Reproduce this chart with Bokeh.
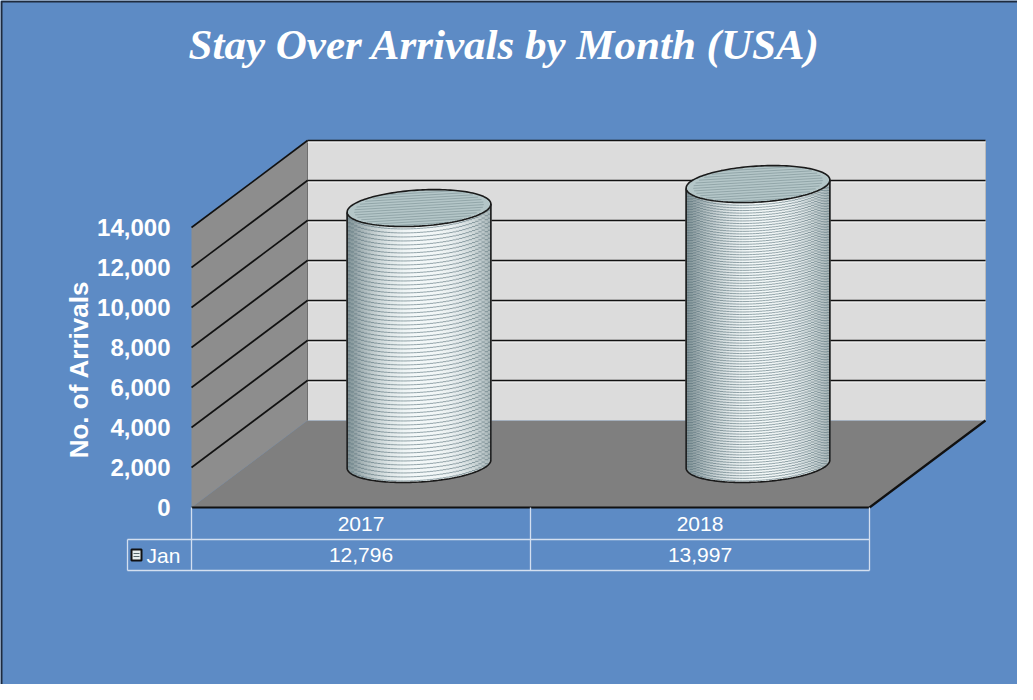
import numpy as np
from bokeh.plotting import figure
from bokeh.models import Range1d
from bokeh.core.properties import value
from bokeh.embed import file_html
from bokeh.resources import INLINE

# ---------------- data ----------------
years = ["2017", "2018"]
arrivals = [12796, 13997]
series_name = "Jan"
y_ticks = [0, 2000, 4000, 6000, 8000, 10000, 12000, 14000]
y_tick_labels = ["0", "2,000", "4,000", "6,000", "8,000", "10,000", "12,000", "14,000"]
title_text = "Stay Over Arrivals by Month (USA)"
y_title = "No. of Arrivals"

# ---------------- layout / style ----------------
W, H = 1017, 684
SX = 339.0          # px per category
SY = 0.02           # px per arrival
ORIGIN = (191, 507)  # canvas px of front-left-bottom corner
x0 = -0.5 - ORIGIN[0] / SX
x1 = x0 + W / SX
y1 = ORIGIN[1] / SY
y0 = y1 - H / SY

def dx(px):
    return px / SX

def dy(px):
    return px / SY

DX, DY = dx(116), dy(87)     # depth offsets
Y_MAX = y_ticks[-1]
LEFT, RIGHT = -0.5, len(years) - 0.5

BLUE = "#5D8BC5"
BACK = "#DCDCDC"
SIDE = "#8D8D8D"
FLOOR = "#7F7F7F"
GRIDC = "#D3DFF0"
FONT = value("Liberation Sans")

def mix(c1, c2, s):
    a = np.array([int(c1[i:i + 2], 16) for i in (1, 3, 5)], float)
    b = np.array([int(c2[i:i + 2], 16) for i in (1, 3, 5)], float)
    c = np.clip(a + (b - a) * s, 0, 255).astype(int)
    return "#%02x%02x%02x" % tuple(c)

p = figure(width=W, height=H, x_range=Range1d(x0, x1), y_range=Range1d(y0, y1),
           output_backend="svg", toolbar_location=None, min_border=0,
           x_axis_location=None, y_axis_location=None)
p.grid.visible = False
p.background_fill_color = BLUE
p.border_fill_color = BLUE
p.outline_line_color = None

p.line([x0 + dx(1), x0 + dx(1), x1], [y0, y1 - dy(1), y1 - dy(1)], line_color="#1E2B3E", line_width=2)

# ---------------- 3D box ----------------
p.patch([LEFT, RIGHT, RIGHT + DX, LEFT + DX], [0, 0, DY, DY], fill_color=FLOOR, line_color=None)
p.patch([LEFT, LEFT + DX, LEFT + DX, LEFT], [0, DY, DY + Y_MAX, Y_MAX], fill_color=SIDE, line_color=None)
p.quad(left=[LEFT + DX], right=[RIGHT + DX], bottom=[DY], top=[DY + Y_MAX], fill_color=BACK, line_color=None)
p.line([LEFT + DX, LEFT + DX], [DY, DY + Y_MAX], line_color="#6E6E6E", line_width=1)
p.line([RIGHT + DX, RIGHT + DX], [DY, DY + Y_MAX], line_color="#BBBBBB", line_width=1)

gt = [t for t in y_ticks if t > 0]
p.segment(x0=[LEFT + DX] * len(gt), y0=[DY + t - dy(1.5) for t in gt],
          x1=[RIGHT + DX] * len(gt), y1=[DY + t - dy(1.5) for t in gt],
          line_color="#F4F4F4", line_width=1)
p.segment(x0=[LEFT + DX] * len(gt), y0=[DY + t for t in gt],
          x1=[RIGHT + DX] * len(gt), y1=[DY + t for t in gt],
          line_color="#111111", line_width=1.6)
p.segment(x0=[LEFT] * len(gt), y0=gt, x1=[LEFT + DX] * len(gt), y1=[DY + t for t in gt],
          line_color="#111111", line_width=1.6)

p.line([LEFT, RIGHT, RIGHT + DX], [0, 0, DY], line_color="#111111", line_width=2.2)

# ---------------- cylinders ----------------
A_PX, B_PX, TH = 72.0, 18.0, 0.06
stripe_gap = [4.0, 2.6]          # px between stripes
LIGHT, DARK = "#F4F9F9", "#7E9094"

def off(t):
    ex, ey = A_PX * np.cos(t), B_PX * np.sin(t)
    X = ex * np.cos(TH) - ey * np.sin(TH)
    Y = ex * np.sin(TH) + ey * np.cos(TH)
    return dx(X), dy(Y)

def shade(u):
    if u < -0.05:
        return min(1.0, ((-u - 0.05) / 0.95) ** 1.8)
    return 0.65 * min(1.0, ((u + 0.05) / 1.05) ** 2.6)

tf = np.linspace(np.pi, 2 * np.pi, 80)
ta = np.linspace(0, 2 * np.pi, 160)
N = 44
uk = np.linspace(-1, 1, N + 1)
tk = 2 * np.pi - np.arccos(uk)
for i, v in enumerate(arrivals):
    cx = i + 0.5 * DX
    base = 0.5 * DY
    top = base + v
    sx0, sy0, sx1, sy1, scol = [], [], [], [], []
    for k in range(N):
        ta_, tb_ = tk[k], tk[k + 1]
        (oxa, oya), (oxb, oyb) = off(ta_), off(tb_)
        s = shade(0.5 * (uk[k] + uk[k + 1]))
        col = mix(LIGHT, DARK, s)
        pad = dx(0.6)
        p.patch([float(cx + oxa - pad), float(cx + oxb + pad), float(cx + oxb + pad), float(cx + oxa - pad)],
                [float(base + oya), float(base + oyb), float(top + oyb), float(top + oya)],
                fill_color=col, line_color=None)
        scolor = mix(col, "#58717A", 0.62)
        ylow = base + max(oya, oyb)
        yhigh = top + min(oya, oyb)
        for yy in np.arange(ylow + dy(1.5), yhigh, dy(stripe_gap[i])):
            sx0.append(float(cx + oxa)); sx1.append(float(cx + oxb))
            sy0.append(float(yy)); sy1.append(float(yy))
            scol.append(scolor)
    p.segment(x0=sx0, y0=sy0, x1=sx1, y1=sy1, line_color=scol, line_width=1)
    ox, oy = off(tf)
    lx = [cx + off(np.pi)[0]] + list(cx + ox) + [cx + off(2 * np.pi)[0]]
    ly = [top + off(np.pi)[1]] + list(base + oy) + [top + off(2 * np.pi)[1]]
    p.line(lx, ly, line_color="#1A1A1A", line_width=1.6)
    tx, ty = off(ta)
    p.patch(list(cx + tx), list(top + ty), fill_color="#B4C6C8", line_color=None)
    hx0, hx1, hy0, hy1 = [], [], [], []
    for yo in np.arange(-B_PX + 2, B_PX - 1, 2.6):
        half = A_PX * np.sqrt(max(0.0, 1 - (yo / B_PX) ** 2)) * 0.9
        hx0.append(float(cx + dx(-half))); hx1.append(float(cx + dx(half)))
        hy0.append(float(top + dy(yo - half * np.sin(TH))))
        hy1.append(float(top + dy(yo + half * np.sin(TH))))
    p.segment(x0=hx0, y0=hy0, x1=hx1, y1=hy1, line_color="#92A6A9", line_width=1)
    p.patch(list(cx + tx), list(top + ty), fill_color=None, line_color="#1A1A1A", line_width=1.6)

# ---------------- axis labels ----------------
p.text(x=[LEFT - dx(21)] * len(y_ticks), y=y_ticks, text=y_tick_labels,
       text_align="right", text_baseline="middle", text_color="white",
       text_font=FONT, text_font_style="bold", text_font_size="24px")
p.text(x=[LEFT - dx(113)], y=[dy(138)], text=[y_title], angle=np.pi / 2,
       text_align="center", text_baseline="middle", text_color="white",
       text_font=FONT, text_font_style="bold", text_font_size="26px")

p.text(x=[LEFT + dx(313)], y=[dy(463)], text=[title_text], text_align="center",
       text_baseline="middle", text_color="white", text_font=value("Liberation Serif"),
       text_font_style="bold italic", text_font_size="43px")

# ---------------- data table ----------------
ROW1, ROW2 = -dy(32), -dy(63)
TLEFT = LEFT - dx(64)
cat_x = list(range(len(years)))
p.segment(x0=[TLEFT, TLEFT], y0=[ROW1, ROW2], x1=[RIGHT, RIGHT], y1=[ROW1, ROW2],
          line_color=GRIDC, line_width=1.3)
bounds = [LEFT] + [c + 0.5 for c in cat_x]
p.segment(x0=bounds, y0=[0] * len(bounds), x1=bounds, y1=[ROW2] * len(bounds),
          line_color=GRIDC, line_width=1.3)
p.segment(x0=[TLEFT], y0=[ROW1], x1=[TLEFT], y1=[ROW2], line_color=GRIDC, line_width=1.3)

p.text(x=cat_x, y=[ROW1 / 2] * len(years), text=years, text_align="center",
       text_baseline="middle", text_color="white", text_font=FONT, text_font_size="21px")
p.text(x=cat_x, y=[(ROW1 + ROW2) / 2] * len(years), text=[f"{v:,}" for v in arrivals],
       text_align="center", text_baseline="middle", text_color="white", text_font=FONT,
       text_font_size="21px")
KX, KY = LEFT - dx(55), (ROW1 + ROW2) / 2
p.rect(x=[KX], y=[KY], width=dx(10), height=dy(11),
       fill_color="#E6EEEE", line_color="#111111", line_width=2)
p.segment(x0=[KX - dx(3)] * 2, y0=[KY - dy(1.5), KY + dy(1.5)], x1=[KX + dx(3)] * 2,
          y1=[KY - dy(1.5), KY + dy(1.5)], line_color="#55676B", line_width=1)
p.text(x=[LEFT - dx(45)], y=[KY], text=[series_name], text_align="left",
       text_baseline="middle", text_color="white", text_font=FONT, text_font_size="21px")

open("out.html", "w").write(file_html(p, INLINE))
